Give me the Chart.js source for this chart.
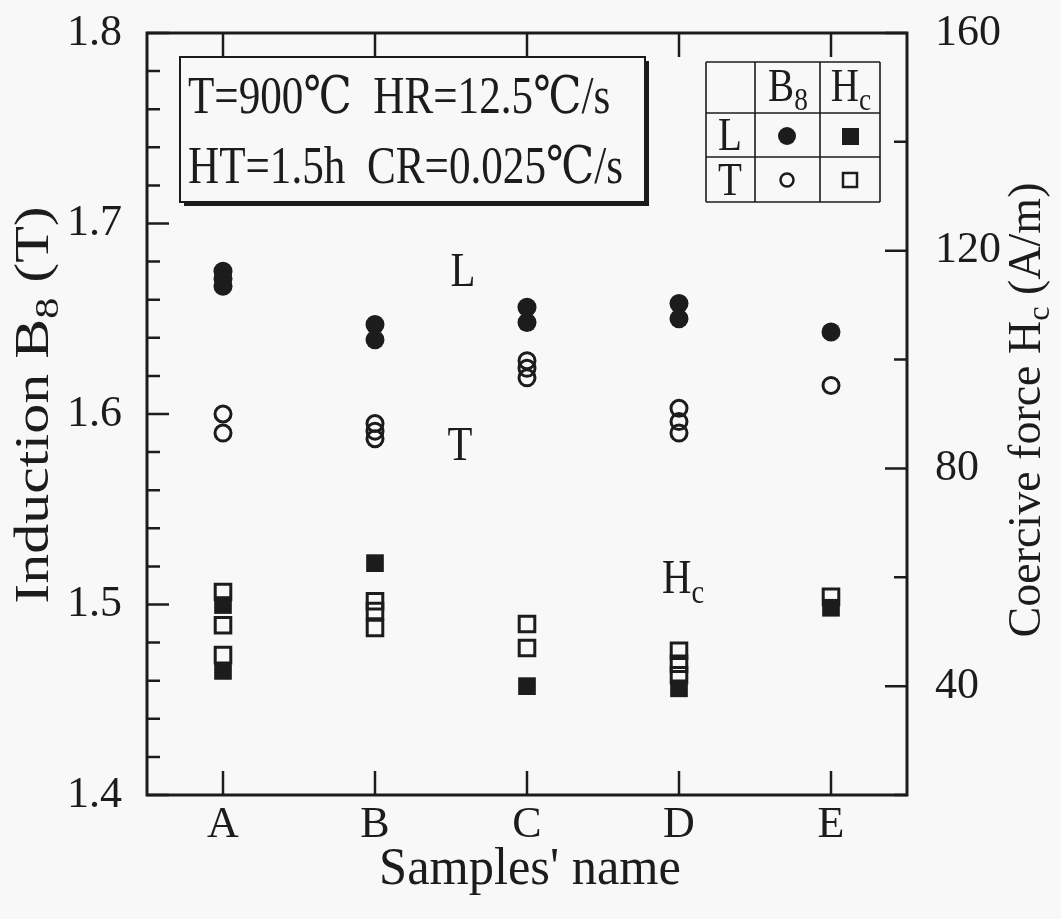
<!DOCTYPE html>
<html>
<head>
<meta charset="utf-8">
<script src="https://cdn.jsdelivr.net/npm/chart.js@4/dist/chart.umd.min.js"></script>
<style>
  html, body { margin: 0; background: #f8f8f8; }
  canvas { display: block; }
</style>
</head>
<body>
<canvas id="chart" width="1061" height="919"></canvas>
<script>
// samples on the x axis
const categories = ["A", "B", "C", "D", "E"];
// induction B8 (T), left axis, one list per sample
const b8L = [[1.675, 1.671, 1.667], [1.647, 1.639], [1.656, 1.648], [1.658, 1.650], [1.643]];
const b8T = [[1.600, 1.590], [1.595, 1.591, 1.587], [1.628, 1.624, 1.619], [1.603, 1.596, 1.590], [1.615]];
// coercive force Hc (A/m), right axis
const hcL = [[54.9, 42.8], [62.6], [40.0], [39.6], [54.4]];
const hcT = [[57.3, 51.2, 45.7], [55.6, 53.8, 50.7], [51.4, 47.0], [46.5, 44.1, 42.0], [56.4]];
// tick labels
const leftLabels = [1.4, 1.5, 1.6, 1.7, 1.8];
const rightLabels = [40, 80, 120, 160];

const INK = "#1c1c1c";
const PAPER = "#f8f8f8";
const SERIF = "'Liberation Serif', 'DejaVu Serif', 'Times New Roman', serif";

function toPoints(groups) {
  const pts = [];
  groups.forEach((vals, i) => vals.forEach(v => pts.push({ x: i, y: v })));
  return pts;
}

// text with subscripts, parts = [[text, isSub], ...], sx squeezes the text horizontally
function drawParts(ctx, parts, x, y, size, align, sx) {
  sx = sx || 1;
  const sub = size * 0.7;
  let w = 0;
  parts.forEach(p => {
    ctx.font = (p[1] ? sub : size) + "px " + SERIF;
    w += ctx.measureText(p[0]).width;
  });
  ctx.save();
  ctx.translate(x, y);
  ctx.scale(sx, 1);
  let cx = align === "center" ? -w / 2 : 0;
  ctx.textAlign = "left";
  ctx.textBaseline = "alphabetic";
  parts.forEach(p => {
    ctx.font = (p[1] ? sub : size) + "px " + SERIF;
    ctx.fillText(p[0], cx, p[1] ? size * 0.2 : 0);
    cx += ctx.measureText(p[0]).width;
  });
  ctx.restore();
}

const decor = {
  id: "decor",
  beforeDraw(chart) {
    const ctx = chart.ctx;
    ctx.save();
    ctx.fillStyle = PAPER;
    ctx.fillRect(0, 0, chart.width, chart.height);
    ctx.restore();
  },
  afterDatasetsDraw(chart) {
    const ctx = chart.ctx;
    const a = chart.chartArea;
    const sx = chart.scales.x, sy = chart.scales.y, sy2 = chart.scales.y2;
    ctx.save();
    ctx.strokeStyle = INK;
    ctx.fillStyle = INK;
    ctx.lineWidth = 3;
    ctx.strokeRect(a.left, a.top, a.right - a.left, a.bottom - a.top);

    // inward ticks
    ctx.lineWidth = 2.5;
    ctx.beginPath();
    sy.ticks.forEach(t => {
      const p = sy.getPixelForValue(t.value);
      const major = Math.round(t.value * 100) % 10 === 0;
      ctx.moveTo(a.left, p);
      ctx.lineTo(a.left + (major ? 22 : 13), p);
    });
    sy2.ticks.forEach(t => {
      const p = sy2.getPixelForValue(t.value);
      const major = Math.round(t.value) % 40 === 0;
      ctx.moveTo(a.right, p);
      ctx.lineTo(a.right - (major ? 22 : 13), p);
    });
    sx.ticks.forEach(t => {
      const p = sx.getPixelForValue(t.value);
      ctx.moveTo(p, a.top);
      ctx.lineTo(p, a.top + 24);
      ctx.moveTo(p, a.bottom);
      ctx.lineTo(p, a.bottom - 24);
    });
    ctx.stroke();

    // condition box
    const bx = 180, by = 57, bw = 465, bh = 145;
    ctx.fillRect(bx + 4, by + 4, bw, bh);
    ctx.fillStyle = PAPER;
    ctx.fillRect(bx, by, bw, bh);
    ctx.lineWidth = 2;
    ctx.strokeRect(bx, by, bw, bh);
    ctx.fillStyle = INK;
    drawParts(ctx, [["T=900℃  HR=12.5℃/s", false]], 188, 113, 52, "left", 0.83);
    drawParts(ctx, [["HT=1.5h  CR=0.025℃/s", false]], 188, 183, 52, "left", 0.83);

    // legend table
    const cols = [706, 755, 820, 880], rows = [62, 113, 157, 202];
    ctx.fillStyle = PAPER;
    ctx.fillRect(cols[0], rows[0], cols[3] - cols[0], rows[3] - rows[0]);
    ctx.fillStyle = INK;
    ctx.lineWidth = 1.6;
    ctx.beginPath();
    cols.forEach(c => { ctx.moveTo(c, rows[0]); ctx.lineTo(c, rows[3]); });
    rows.forEach(r => { ctx.moveTo(cols[0], r); ctx.lineTo(cols[3], r); });
    ctx.stroke();
    drawParts(ctx, [["B", false], ["8", true]], 788, 101, 46, "center", 0.85);
    drawParts(ctx, [["H", false], ["c", true]], 851, 101, 46, "center", 0.85);
    drawParts(ctx, [["L", false]], 730, 150, 46, "center", 0.85);
    drawParts(ctx, [["T", false]], 730, 195, 46, "center", 0.85);
    ctx.beginPath(); ctx.arc(787, 136, 9, 0, Math.PI * 2); ctx.fill();
    ctx.fillRect(842, 128, 17, 17);
    ctx.lineWidth = 2.5;
    ctx.beginPath(); ctx.arc(787, 180, 6.5, 0, Math.PI * 2); ctx.stroke();
    ctx.strokeRect(843, 173, 14, 14);

    // series labels in the plot
    drawParts(ctx, [["L", false]], 463, 286, 48, "center", 0.85);
    drawParts(ctx, [["T", false]], 460, 460, 48, "center", 0.85);
    drawParts(ctx, [["H", false], ["c", true]], 683, 593, 48, "center", 0.85);

    // axis titles
    ctx.save();
    ctx.translate(48, 405);
    ctx.rotate(-Math.PI / 2);
    drawParts(ctx, [["Induction B", false], ["8", true], [" (T)", false]], 0, 0, 48, "center", 1.25);
    ctx.restore();
    ctx.save();
    ctx.translate(1040, 410);
    ctx.rotate(-Math.PI / 2);
    drawParts(ctx, [["Coercive force H", false], ["c", true], [" (A/m)", false]], 0, 0, 46, "center", 1);
    ctx.restore();
    drawParts(ctx, [["Samples' name", false]], 530, 884, 52, "center", 0.97);
    ctx.restore();
  }
};

const filledCircle = { pointStyle: "circle", pointRadius: 9.5, backgroundColor: INK, borderColor: INK, borderWidth: 0 };
const openCircle = { pointStyle: "circle", pointRadius: 8, backgroundColor: "rgba(0,0,0,0)", borderColor: INK, borderWidth: 3 };
const filledSquare = { pointStyle: "rect", pointRadius: 12.5, backgroundColor: INK, borderColor: INK, borderWidth: 0 };
const openSquare = { pointStyle: "rect", pointRadius: 11, backgroundColor: "rgba(0,0,0,0)", borderColor: INK, borderWidth: 3 };

function noPad(s) { s.paddingTop = 0; s.paddingBottom = 0; }

new Chart(document.getElementById("chart"), {
  type: "scatter",
  data: {
    datasets: [
      Object.assign({ label: "Hc L", data: toPoints(hcL), yAxisID: "y2" }, filledSquare),
      Object.assign({ label: "Hc T", data: toPoints(hcT), yAxisID: "y2" }, openSquare),
      Object.assign({ label: "B8 L", data: toPoints(b8L), yAxisID: "y" }, filledCircle),
      Object.assign({ label: "B8 T", data: toPoints(b8T), yAxisID: "y" }, openCircle)
    ]
  },
  options: {
    responsive: false,
    animation: false,
    devicePixelRatio: 1,
    layout: { padding: { top: 33 } },
    plugins: { legend: { display: false }, tooltip: { enabled: false } },
    scales: {
      x: {
        type: "linear", position: "bottom", min: -0.5, max: 4.5,
        afterBuildTicks: s => { s.ticks = categories.map((c, i) => ({ value: i })); },
        afterFit: s => { s.height = 124; s.paddingLeft = 0; s.paddingRight = 0; },
        grid: { display: false, tickLength: 0 }, border: { display: false },
        ticks: { callback: v => categories[v], color: INK, padding: 4, font: { family: SERIF, size: 44 } }
      },
      y: {
        position: "left", min: 1.4, max: 1.8,
        afterFit: s => { s.width = 147; noPad(s); },
        grid: { display: false, tickLength: 0 }, border: { display: false },
        ticks: {
          stepSize: 0.02, autoSkip: false, color: INK, padding: 25,
          font: { family: SERIF, size: 44 },
          callback: v => leftLabels.some(l => Math.abs(l - v) < 1e-6) ? v.toFixed(1) : ""
        }
      },
      y2: {
        position: "right", min: 20, max: 160,
        afterFit: s => { s.width = 154; noPad(s); },
        grid: { display: false, tickLength: 0 }, border: { display: false },
        ticks: {
          stepSize: 20, autoSkip: false, color: INK, padding: 28,
          font: { family: SERIF, size: 44 },
          callback: v => rightLabels.includes(v) ? String(v) : ""
        }
      }
    }
  },
  plugins: [decor]
});
</script>
</body>
</html>
